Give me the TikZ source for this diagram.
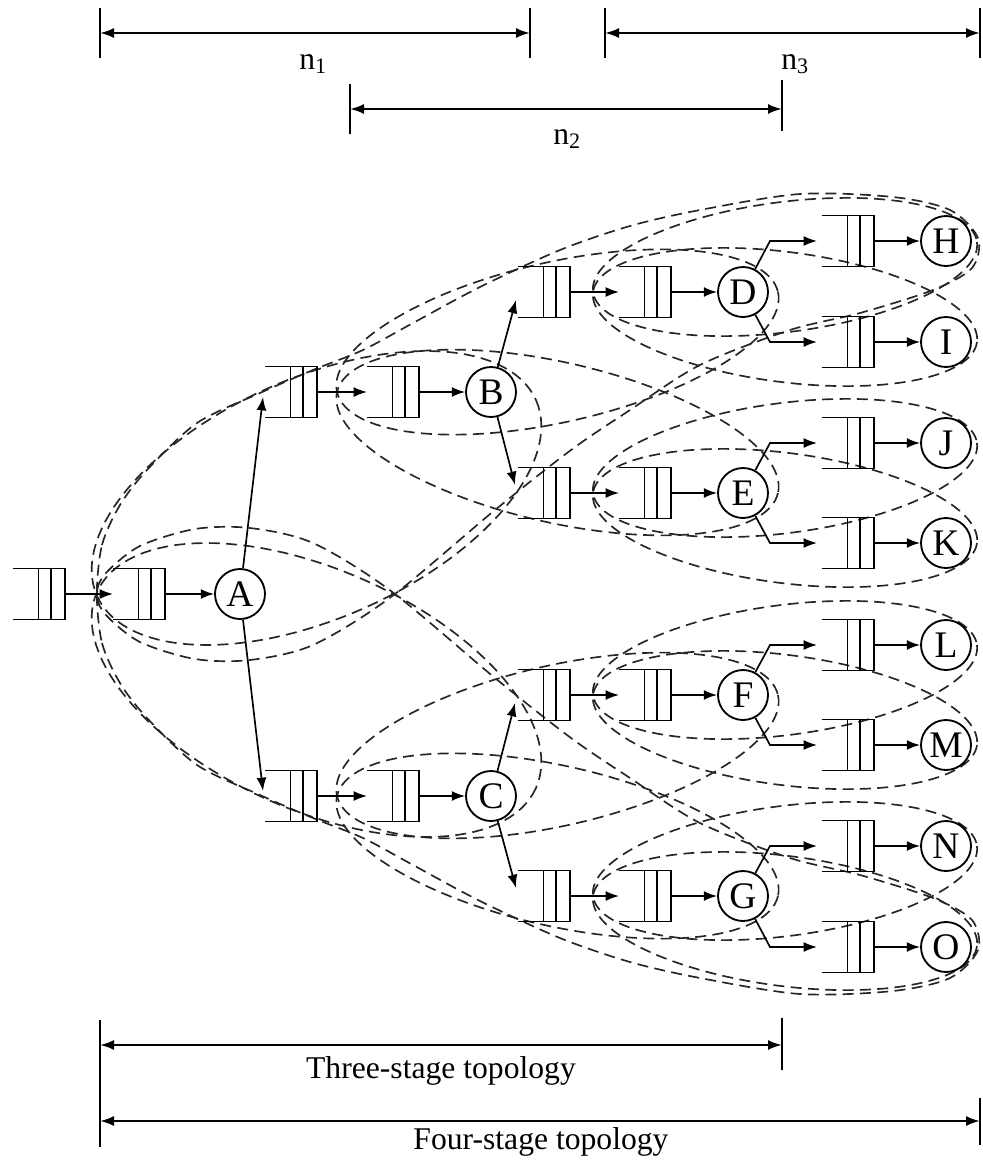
\documentclass[tikz,border=0pt]{standalone}
\usepackage{fontspec}
\setmainfont{Liberation Serif}
\usetikzlibrary{arrows.meta,calc}
\tikzset{
  qnode/.style={rectangle,draw=none,minimum width=1.56cm,minimum height=1.53cm,inner sep=0pt,outer sep=0pt},
  qline/.style={line width=0.055cm},
  circ/.style={circle,draw,line width=0.055cm,minimum size=1.5cm,inner sep=0pt,font=\fontsize{32}{34}\selectfont},
  conn/.style={line width=0.05cm,-{Latex[length=0.4cm,width=0.3cm]}},
  dim/.style={line width=0.065cm,{Latex[length=0.42cm,width=0.3cm]}-{Latex[length=0.42cm,width=0.3cm]}},
  tick/.style={line width=0.055cm},
  ell/.style={line width=0.05cm,draw=black!85,dash pattern=on 0.33cm off 0.19cm},
  lbl/.style={font=\fontsize{27}{30}\selectfont,inner sep=0pt},
}
\newcommand{\queue}[3]{%
  \node[qnode] (#1) at (#2,#3) {};
  \draw[qline] (#1.north west) -- (#1.north east) -- (#1.south east) -- (#1.south west);
  \draw[qline] ($(#1.north west)!0.49!(#1.north east)$) -- ($(#1.south west)!0.49!(#1.south east)$);
  \draw[qline] ($(#1.north west)!0.73!(#1.north east)$) -- ($(#1.south west)!0.73!(#1.south east)$);
}
\newcommand{\tilted}[5]{%
  \pgfmathsetmacro{\ecx}{(#1+#3)/2}%
  \pgfmathsetmacro{\ecy}{(#2+#4)/2}%
  \pgfmathsetmacro{\ea}{veclen(#3-#1,#4-#2)/2}%
  \pgfmathsetmacro{\eth}{atan2(#4-#2,#3-#1)}%
  \draw[ell] plot[domain=0:360,samples=121,variable=\t]
    ({\ecx+\ea*cos(\t)*cos(\eth)-#5*sin(\t)*sin(\eth)},{\ecy+\ea*cos(\t)*sin(\eth)+#5*sin(\t)*cos(\eth)}) -- cycle;
}
\begin{document}
\begin{tikzpicture}[x=0.03cm,y=-0.03cm]
\useasboundingbox (0,0) rectangle (983,1165);

% ---------- dimension lines (top) ----------
\coordinate (t1a) at (100,33); \coordinate (t1b) at (530,33);
\coordinate (t3a) at (605,33); \coordinate (t3b) at (980,33);
\coordinate (t2a) at (350,109); \coordinate (t2b) at (782,109);
\draw[tick] (100,8) -- (100,58);
\draw[tick] (530,8) -- (530,58);
\draw[tick] (605,8) -- (605,58);
\draw[tick] (980,8) -- (980,58);
\draw[tick] (350,84) -- (350,134);
\draw[tick] (782,80) -- (782,131);
\draw[dim] (t1a) -- (t1b);
\draw[dim] (t3a) -- (t3b);
\draw[dim] (t2a) -- (t2b);
\node[lbl] (n1) at (313,64) {n\textsubscript{1}};
\node[lbl] (n3) at (795,64) {n\textsubscript{3}};
\node[lbl] (n2) at (567,139) {n\textsubscript{2}};

% ---------- dimension lines (bottom) ----------
\coordinate (b3a) at (100,1045); \coordinate (b3b) at (782,1045);
\coordinate (b4a) at (100,1121); \coordinate (b4b) at (980,1121);
\draw[tick] (100,1020) -- (100,1147);
\draw[tick] (782,1018) -- (782,1070);
\draw[tick] (980,1098) -- (980,1145);
\draw[dim] (b3a) -- (b3b);
\draw[dim] (b4a) -- (b4b);
\node[lbl] (t3) at (441,1071) {Three-stage topology};
\node[lbl] (t4) at (541,1142) {Four-stage topology};

% ---------- dashed groupings ----------
% big four-stage blobs
\draw[ell] plot[smooth cycle,tension=0.5] coordinates {
 (97,594) (102,545) (120,505) (147,470) (197,423) (260,393) (313,370) (363,350) (413,323)
 (480,287) (560,250) (630,226) (700,210) (800,194) (893,197) (950,210) (978,238) (972,268)
 (933,290) (860,313) (790,330) (700,365) (630,410) (571,450) (495,510) (391,597) (313,645)
 (250,660) (195,659) (140,642) (106,615)};
\draw[ell] plot[smooth cycle,tension=0.5] coordinates {
 (97,594) (102,643) (120,683) (147,718) (197,765) (260,795) (313,818) (363,838) (413,865)
 (480,901) (560,938) (630,962) (700,978) (800,994) (893,991) (950,978) (978,950) (972,920)
 (933,898) (860,875) (790,858) (700,823) (630,778) (571,738) (495,678) (391,591) (313,543)
 (250,528) (195,529) (140,546) (106,573)};
% n1
\tilted{97}{596}{536}{400}{120}
\tilted{97}{592}{536}{788}{120}
% n2
\tilted{337}{392}{778}{292}{80}
\tilted{337}{392}{778}{493}{80}
\tilted{337}{796}{778}{896}{80}
\tilted{337}{796}{778}{695}{80}
% n3
\tilted{593}{292}{977}{242}{65}
\tilted{593}{292}{977}{342}{65}
\tilted{593}{493}{977}{443}{65}
\tilted{593}{493}{977}{543}{65}
\tilted{593}{695}{977}{645}{65}
\tilted{593}{695}{977}{745}{65}
\tilted{593}{896}{977}{846}{65}
\tilted{593}{896}{977}{946}{65}

% ---------- queues ----------
\queue{q0}{39}{594}
\queue{q1}{139}{594}
\queue{qB1}{291}{392} \queue{qB2}{393}{392}
\queue{qC1}{291}{796} \queue{qC2}{393}{796}
\queue{qD1}{544}{292} \queue{qD2}{645}{292}
\queue{qE1}{544}{493} \queue{qE2}{645}{493}
\queue{qF1}{544}{695} \queue{qF2}{645}{695}
\queue{qG1}{544}{896} \queue{qG2}{645}{896}
\queue{qH}{848}{241} \queue{qI}{848}{342}
\queue{qJ}{848}{443} \queue{qK}{848}{543}
\queue{qL}{848}{645} \queue{qM}{848}{745}
\queue{qN}{848}{846} \queue{qO}{848}{947}

% ---------- servers ----------
\node[circ] (A) at (240,594) {A};
\node[circ] (B) at (491,392) {B};
\node[circ] (C) at (491,796) {C};
\node[circ] (D) at (743,292) {D};
\node[circ] (E) at (743,493) {E};
\node[circ] (F) at (743,695) {F};
\node[circ] (G) at (743,896) {G};
\node[circ] (H) at (946,241) {H};
\node[circ] (I) at (946,342) {I};
\node[circ] (J) at (946,443) {J};
\node[circ] (K) at (946,543) {K};
\node[circ] (L) at (946,645) {L};
\node[circ] (M) at (946,745) {M};
\node[circ] (N) at (946,846) {N};
\node[circ] (O) at (946,947) {O};

% ---------- connectors ----------
\draw[conn] (q0.east) -- (q1.west);
\draw[conn] (q1.east) -- (A.west);
\draw[conn] (A) -- ($(qB1.west)+(-2,5)$);
\draw[conn] (A) -- ($(qC1.west)+(-2,-5)$);
\draw[conn] (qB1.east) -- (qB2.west);
\draw[conn] (qB2.east) -- (B.west);
\draw[conn] (qC1.east) -- (qC2.west);
\draw[conn] (qC2.east) -- (C.west);
\draw[conn] (B) -- ($(qD1.west)+(-2,8)$);
\draw[conn] (B) -- ($(qE1.west)+(-3,-8)$);
\draw[conn] (C) -- ($(qF1.west)+(-3,8)$);
\draw[conn] (C) -- ($(qG1.west)+(-2,-8)$);
\draw[conn] (qD1.east) -- (qD2.west); \draw[conn] (qD2.east) -- (D.west);
\draw[conn] (qE1.east) -- (qE2.west); \draw[conn] (qE2.east) -- (E.west);
\draw[conn] (qF1.east) -- (qF2.west); \draw[conn] (qF2.east) -- (F.west);
\draw[conn] (qG1.east) -- (qG2.west); \draw[conn] (qG2.east) -- (G.west);
% forks
\coordinate (kH) at (770,241); \coordinate (kI) at (770,342);
\coordinate (kJ) at (770,443); \coordinate (kK) at (770,543);
\coordinate (kL) at (770,645); \coordinate (kM) at (770,745);
\coordinate (kN) at (770,846); \coordinate (kO) at (770,947);
\draw[conn] (D) -- (kH) -- ($(qH.west)+(-5,0)$);
\draw[conn] (D) -- (kI) -- ($(qI.west)+(-5,0)$);
\draw[conn] (E) -- (kJ) -- ($(qJ.west)+(-5,0)$);
\draw[conn] (E) -- (kK) -- ($(qK.west)+(-5,0)$);
\draw[conn] (F) -- (kL) -- ($(qL.west)+(-5,0)$);
\draw[conn] (F) -- (kM) -- ($(qM.west)+(-5,0)$);
\draw[conn] (G) -- (kN) -- ($(qN.west)+(-5,0)$);
\draw[conn] (G) -- (kO) -- ($(qO.west)+(-5,0)$);
\draw[conn] (qH.east) -- (H.west); \draw[conn] (qI.east) -- (I.west);
\draw[conn] (qJ.east) -- (J.west); \draw[conn] (qK.east) -- (K.west);
\draw[conn] (qL.east) -- (L.west); \draw[conn] (qM.east) -- (M.west);
\draw[conn] (qN.east) -- (N.west); \draw[conn] (qO.east) -- (O.west);
\end{tikzpicture}
\end{document}
